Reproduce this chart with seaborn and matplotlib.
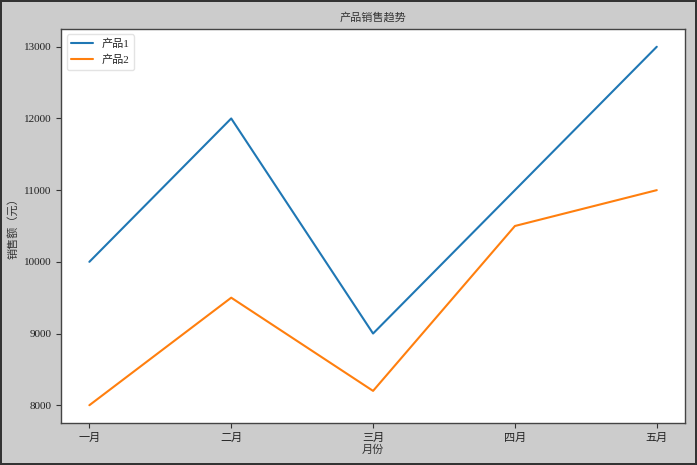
import pandas as pd
import seaborn as sns
import matplotlib.pyplot as plt

months = ["一月", "二月", "三月", "四月", "五月"]
product1 = [10000, 12000, 9000, 11000, 13000]
product2 = [8000, 9500, 8200, 10500, 11000]
series_names = ["产品1", "产品2"]

df = pd.DataFrame({
    "月份": months * 2,
    "销售额": product1 + product2,
    "产品": [series_names[0]] * len(months) + [series_names[1]] * len(months),
})

sns.set_style("ticks")
plt.rcParams["font.family"] = ["Liberation Serif", "Noto Sans CJK SC", "DejaVu Sans"]
plt.rcParams["axes.unicode_minus"] = False

fig = plt.figure(figsize=(6.97, 4.65), dpi=100, facecolor="#cccccc",
                 edgecolor="#333333", linewidth=1.5)
ax = fig.add_axes([0.0875, 0.090, 0.8955, 0.848])
ax.set_facecolor("white")

sns.lineplot(data=df, x="月份", y="销售额", hue="产品",
             palette=["#1f77b4", "#ff7f0e"], linewidth=1.5, sort=False, ax=ax)

ax.set_title("产品销售趋势", fontsize=8, color="#333333")
ax.set_xlabel("月份", fontsize=8, color="#333333", labelpad=1)
ax.set_ylabel("销售额（元）", fontsize=8, color="#333333")
ax.tick_params(labelsize=8, length=3.5, color="#333333", labelcolor="#222222")
ax.set_ylim(7750, 13250)
ax.set_xlim(-0.2, 4.2)
for s in ax.spines.values():
    s.set_color("#444444")
    s.set_linewidth(1)

leg = ax.legend(loc="upper left", fontsize=8, frameon=True, title=None)
leg.get_frame().set_edgecolor("#dddddd")

fig.savefig("out.png", dpi=100, facecolor=fig.get_facecolor(), edgecolor=fig.get_edgecolor())
